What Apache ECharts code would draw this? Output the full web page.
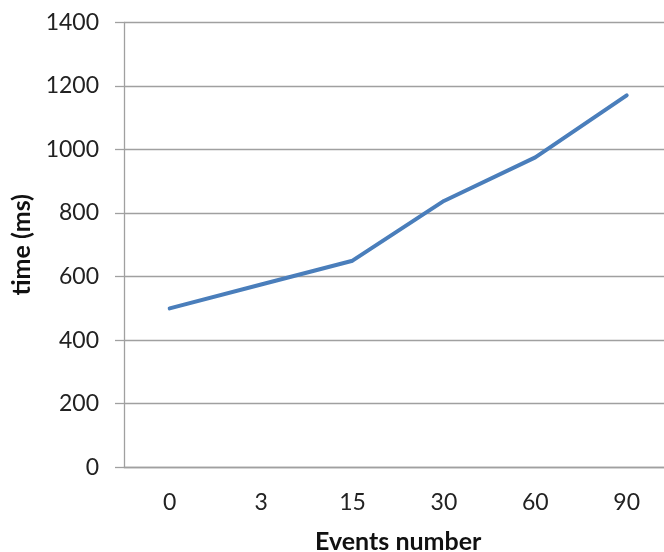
<!DOCTYPE html>
<html>
<head>
<meta charset="utf-8">
<script src="https://cdn.jsdelivr.net/npm/echarts@6/dist/echarts.min.js"></script>
<style>
html,body{margin:0;padding:0;background:#fff;overflow:hidden;width:664px;height:552px;}
#chart{width:664px;height:552px;}
</style>
</head>
<body>
<div id="chart"></div>
<script>
var categories = ['0', '3', '15', '30', '60', '90'];
var timeMs = [500, 575, 650, 838, 975, 1170];
var yTicks = { min: 0, max: 1400, interval: 200 };

var chart = echarts.init(document.getElementById('chart'), null, { renderer: 'canvas' });
chart.setOption({
  animation: false,
  backgroundColor: '#ffffff',
  grid: { left: 124, right: -8.4, top: 22.3, bottom: 84.7, containLabel: false, outerBoundsMode: 'none' },
  xAxis: {
    type: 'category',
    data: categories,
    boundaryGap: true,
    name: 'Events number',
    nameLocation: 'middle',
    nameGap: 62,
    nameTextStyle: { fontFamily: 'Lato', fontWeight: 'bold', fontSize: 25, color: '#111' },
    axisLine: { show: true, lineStyle: { color: '#a0a0a0', width: 1.3 } },
    axisTick: { show: false },
    axisLabel: { margin: 24, fontFamily: 'Lato', fontSize: 23, color: '#222' },
    splitLine: { show: false }
  },
  yAxis: {
    type: 'value',
    min: yTicks.min,
    max: yTicks.max,
    interval: yTicks.interval,
    name: 'time (ms)',
    nameLocation: 'middle',
    nameGap: 87,
    nameTextStyle: { fontFamily: 'Lato', fontWeight: 'bold', fontSize: 25, color: '#111' },
    axisLine: { show: true, lineStyle: { color: '#a0a0a0', width: 1.3 } },
    axisTick: { show: true, length: 9, lineStyle: { color: '#a0a0a0', width: 1.3 } },
    axisLabel: { margin: 25, fontFamily: 'Lato', fontSize: 23, color: '#222', formatter: function (v) { return String(v); } },
    splitLine: { show: true, lineStyle: { color: '#a0a0a0', width: 1.3 } }
  },
  series: [{
    type: 'line',
    data: timeMs,
    showSymbol: false,
    symbol: 'none',
    lineStyle: { color: '#4a7ebb', width: 4, cap: 'round', join: 'round' }
  }]
});
</script>
</body>
</html>
